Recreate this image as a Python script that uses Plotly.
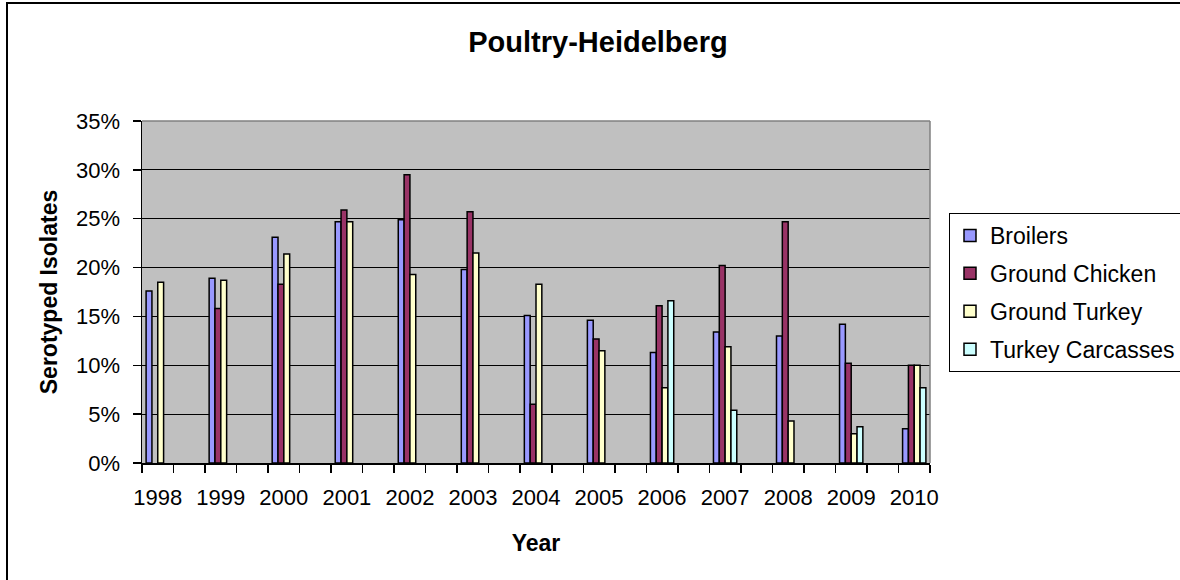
import plotly.graph_objects as go

years = ["1998", "1999", "2000", "2001", "2002", "2003", "2004",
         "2005", "2006", "2007", "2008", "2009", "2010"]
broilers = [0.176, 0.189, 0.231, 0.247, 0.249, 0.198, 0.151,
            0.146, 0.113, 0.134, 0.130, 0.142, 0.035]
ground_chicken = [None, 0.158, 0.183, 0.259, 0.295, 0.257, 0.060,
                  0.127, 0.161, 0.202, 0.247, 0.102, 0.100]
ground_turkey = [0.185, 0.187, 0.214, 0.247, 0.193, 0.215, 0.183,
                 0.115, 0.077, 0.119, 0.043, 0.030, 0.100]
turkey_carcasses = [None, None, None, None, None, None, None,
                    None, 0.166, 0.054, None, 0.037, 0.077]

series = [
    ("Broilers", broilers, "#9999FF"),
    ("Ground Chicken", ground_chicken, "#993366"),
    ("Ground Turkey", ground_turkey, "#FFFFCC"),
    ("Turkey Carcasses", turkey_carcasses, "#CCFFFF"),
]

# each year occupies every second category slot (25 slots, labels on even slots)
xpos = [2 * i for i in range(len(years))]

FONT = "Liberation Sans, Arial, sans-serif"

fig = go.Figure()
for name, vals, color in series:
    fig.add_trace(go.Bar(
        x=xpos, y=vals, name=name, legendgroup=name,
        marker=dict(color=color, line=dict(color="black", width=1.5)),
    ))

# figure is a bit wider than the 1180px window; the overflow is hidden
W, H = 1210, 580
L, R, T, B = 142, 930, 121, 463
pw, ph = R - L, B - T

def px_x(x):
    return (x - L) / pw

def px_y(y):
    return (B - y) / ph

fig.update_layout(
    width=W, height=H,
    margin=dict(l=L, r=W - R, t=T, b=H - B, pad=0),
    paper_bgcolor="white",
    plot_bgcolor="#C0C0C0",
    barmode="group",
    bargap=0.63,
    bargroupgap=0,
    font=dict(family=FONT, size=22, color="black"),
    title=dict(
        text="<b>Poultry-Heidelberg</b>",
        font=dict(family=FONT, size=29, color="black"),
        x=px_x(598), xref="paper", xanchor="center",
        y=1 - 42 / H, yref="container", yanchor="middle",
    ),
    legend=dict(
        x=px_x(949), y=px_y(213), xanchor="left", yanchor="top",
        bordercolor="black", borderwidth=1, bgcolor="white",
        font=dict(family=FONT, size=23, color="black"),
        tracegroupgap=5,
    ),
    xaxis=dict(
        range=[-0.5, 24.5],
        tickmode="array", tickvals=xpos, ticktext=years,
        ticks="outside", ticklen=8, tickcolor="rgba(0,0,0,0)",
        ticklabelstandoff=6,
        showgrid=False, zeroline=False,
        showline=True, linecolor="black", linewidth=1.5,
        minor=dict(
            tickmode="array",
            tickvals=[k - 0.5 for k in range(26)],
            ticks="outside", ticklen=8, tickcolor="black", tickwidth=1.5,
            showgrid=False,
        ),
        title=dict(text="<b>Year</b>", font=dict(family=FONT, size=23),
                   standoff=26),
        fixedrange=True,
    ),
    yaxis=dict(
        range=[0, 0.35], dtick=0.05, tick0=0, tickformat=".0%",
        ticks="outside", ticklen=8, tickcolor="black", tickwidth=1.5,
        ticklabelstandoff=8,
        showgrid=True, gridcolor="black", gridwidth=1,
        zeroline=False,
        showline=True, linecolor="black", linewidth=1.5,
        title=dict(text="<b>Serotyped Isolates</b>",
                   font=dict(family=FONT, size=23), standoff=12),
        fixedrange=True,
    ),
    shapes=[
        # grey plot-area border on top and right
        dict(type="line", xref="paper", yref="paper", x0=0, x1=1, y0=1, y1=1,
             line=dict(color="#808080", width=1.5)),
        dict(type="line", xref="paper", yref="paper", x0=1, x1=1, y0=0, y1=1,
             line=dict(color="#808080", width=1.5)),
        # outer chart frame
        dict(type="rect", xref="paper", yref="paper",
             x0=px_x(7), x1=px_x(1230), y0=px_y(600), y1=px_y(3),
             line=dict(color="black", width=2), layer="below"),
    ],
)

fig.write_html(
    "out.html",
    config={"displayModeBar": False, "staticPlot": True},
    post_script="document.body.style.margin='0';"
                "document.body.style.overflow='hidden';"
                "document.documentElement.style.overflow='hidden';",
)
